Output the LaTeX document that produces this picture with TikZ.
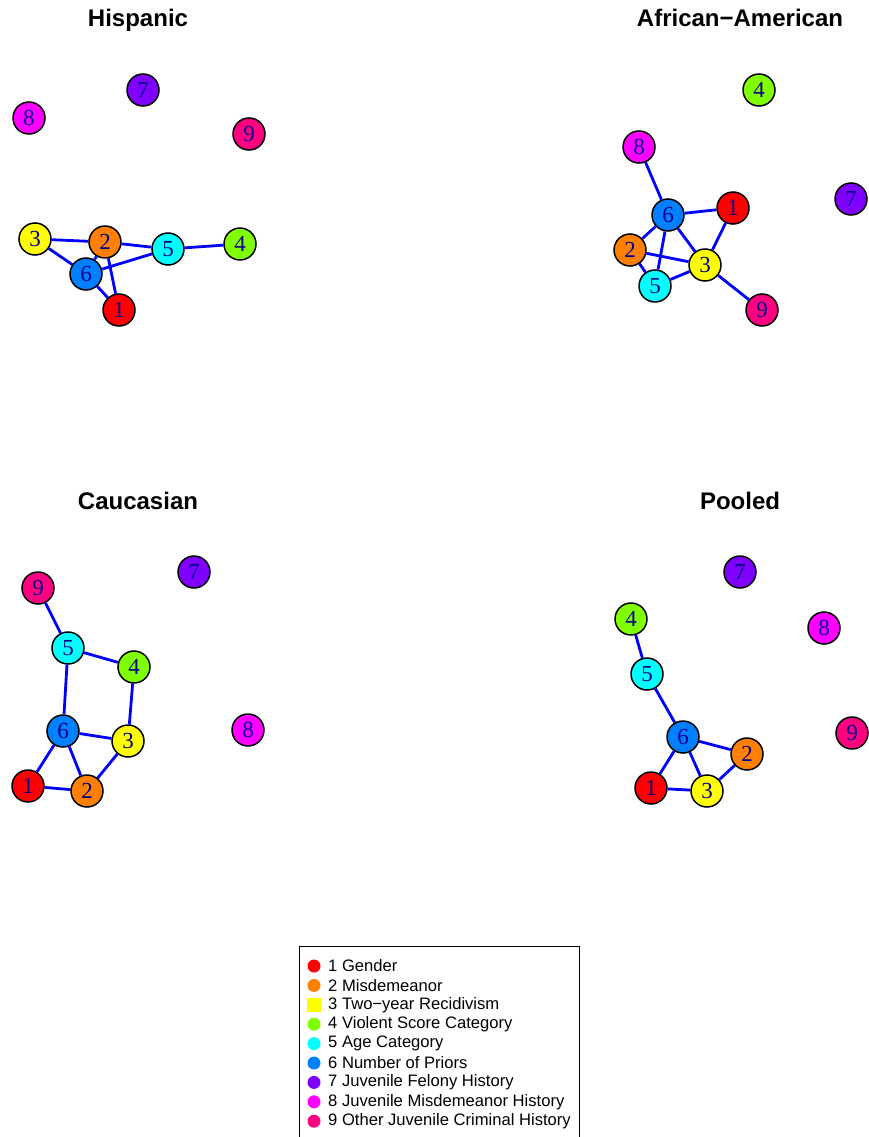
\documentclass[tikz,border=0pt]{standalone}
\usepackage{fontspec}
\setmainfont{Liberation Serif}
\setsansfont{Liberation Sans}
\definecolor{c1}{HTML}{FF0000}
\definecolor{c2}{HTML}{FF8000}
\definecolor{c3}{HTML}{FFFF00}
\definecolor{c4}{HTML}{80FF00}
\definecolor{c5}{HTML}{00FFFF}
\definecolor{c6}{HTML}{0080FF}
\definecolor{c7}{HTML}{8000FF}
\definecolor{c8}{HTML}{FF00FF}
\definecolor{c9}{HTML}{FF0080}
\definecolor{lab}{HTML}{00008B}
\definecolor{edge}{HTML}{0000FF}
\tikzset{
  vtx/.style={circle, draw=black, line width=1.5pt, minimum size=32pt, inner sep=0pt,
    text=lab, font=\fontsize{23}{23}\selectfont},
  lnk/.style={draw=edge, line width=2.8pt},
  ttl/.style={anchor=base, font=\sffamily\bfseries\fontsize{24}{28}\selectfont},
  ldot/.style={circle, minimum size=13pt, inner sep=0pt},
  lsq/.style={rectangle, minimum size=14pt, inner sep=0pt},
  ltxt/.style={anchor=west, inner sep=0pt, font=\sffamily\fontsize{16.6}{19}\selectfont}
}
\begin{document}
\begin{tikzpicture}[x=1pt,y=-1pt]
\useasboundingbox (0,0) rectangle (868,1137);
% Titles
\node[ttl] (t1) at (138,27) {Hispanic};
\node[ttl] (t2) at (740,27) {African\textminus American};
\node[ttl] (t3) at (138,509) {Caucasian};
\node[ttl] (t4) at (740,509) {Pooled};
% Hispanic
\node[vtx, fill=c8] (h8) at (29,118) {8};
\node[vtx, fill=c7] (h7) at (143,90) {7};
\node[vtx, fill=c9] (h9) at (249,134) {9};
\node[vtx, fill=c3] (h3) at (35,239) {3};
\node[vtx, fill=c2] (h2) at (105,242) {2};
\node[vtx, fill=c5] (h5) at (168,249) {5};
\node[vtx, fill=c4] (h4) at (240,244) {4};
\node[vtx, fill=c6] (h6) at (86,274) {6};
\node[vtx, fill=c1] (h1) at (119,310) {1};
\draw[lnk] (h3) -- (h2);
\draw[lnk] (h3) -- (h6);
\draw[lnk] (h2) -- (h6);
\draw[lnk] (h2) -- (h1);
\draw[lnk] (h2) -- (h5);
\draw[lnk] (h6) -- (h5);
\draw[lnk] (h6) -- (h1);
\draw[lnk] (h5) -- (h4);
% African-American
\node[vtx, fill=c4] (a4) at (759,90) {4};
\node[vtx, fill=c8] (a8) at (639,147) {8};
\node[vtx, fill=c7] (a7) at (851,199) {7};
\node[vtx, fill=c6] (a6) at (668,215) {6};
\node[vtx, fill=c1] (a1) at (733,208) {1};
\node[vtx, fill=c2] (a2) at (630,250) {2};
\node[vtx, fill=c3] (a3) at (705,265) {3};
\node[vtx, fill=c5] (a5) at (655,286) {5};
\node[vtx, fill=c9] (a9) at (762,310) {9};
\draw[lnk] (a8) -- (a6);
\draw[lnk] (a6) -- (a1);
\draw[lnk] (a6) -- (a2);
\draw[lnk] (a6) -- (a5);
\draw[lnk] (a6) -- (a3);
\draw[lnk] (a1) -- (a3);
\draw[lnk] (a2) -- (a3);
\draw[lnk] (a2) -- (a5);
\draw[lnk] (a5) -- (a3);
\draw[lnk] (a3) -- (a9);
% Caucasian
\node[vtx, fill=c9] (c9n) at (38,588) {9};
\node[vtx, fill=c7] (c7n) at (194,572) {7};
\node[vtx, fill=c5] (c5n) at (68,648) {5};
\node[vtx, fill=c4] (c4n) at (134,667) {4};
\node[vtx, fill=c6] (c6n) at (63,731) {6};
\node[vtx, fill=c3] (c3n) at (128,741) {3};
\node[vtx, fill=c8] (c8n) at (248,730) {8};
\node[vtx, fill=c1] (c1n) at (28,786) {1};
\node[vtx, fill=c2] (c2n) at (87,791) {2};
\draw[lnk] (c9n) -- (c5n);
\draw[lnk] (c5n) -- (c4n);
\draw[lnk] (c5n) -- (c6n);
\draw[lnk] (c4n) -- (c3n);
\draw[lnk] (c6n) -- (c3n);
\draw[lnk] (c6n) -- (c1n);
\draw[lnk] (c6n) -- (c2n);
\draw[lnk] (c1n) -- (c2n);
\draw[lnk] (c2n) -- (c3n);
% Pooled
\node[vtx, fill=c7] (p7) at (740,572) {7};
\node[vtx, fill=c4] (p4) at (631,619) {4};
\node[vtx, fill=c8] (p8) at (824,628) {8};
\node[vtx, fill=c5] (p5) at (647,674) {5};
\node[vtx, fill=c6] (p6) at (683,737) {6};
\node[vtx, fill=c2] (p2) at (747,754) {2};
\node[vtx, fill=c9] (p9) at (852,733) {9};
\node[vtx, fill=c1] (p1) at (651,788) {1};
\node[vtx, fill=c3] (p3) at (707,791) {3};
\draw[lnk] (p4) -- (p5);
\draw[lnk] (p5) -- (p6);
\draw[lnk] (p6) -- (p2);
\draw[lnk] (p6) -- (p1);
\draw[lnk] (p6) -- (p3);
\draw[lnk] (p1) -- (p3);
\draw[lnk] (p3) -- (p2);
% Legend
\draw[line width=1pt] (299,1137) -- (299,946) -- (579,946) -- (579,1137);
\foreach \i/\t [evaluate=\i as \yy using 966+(\i-1)*19.4] in
  {1/Gender, 2/Misdemeanor, 3/Two\textminus year Recidivism, 4/Violent Score Category,
   5/Age Category, 6/Number of Priors, 7/Juvenile Felony History,
   8/Juvenile Misdemeanor History, 9/Other Juvenile Criminal History}{
  \node[ltxt] (lt\i) at (328,\yy) {\i\ \t};
}
\node[ldot, fill=c1] (ls1) at (314,966) {};
\node[ldot, fill=c2] (ls2) at (314,985.4) {};
\node[lsq, fill=c3] (ls3) at (314,1004.8) {};
\node[ldot, fill=c4] (ls4) at (314,1024.2) {};
\node[ldot, fill=c5] (ls5) at (314,1043.6) {};
\node[ldot, fill=c6] (ls6) at (314,1063) {};
\node[ldot, fill=c7] (ls7) at (314,1082.4) {};
\node[ldot, fill=c8] (ls8) at (314,1101.8) {};
\node[ldot, fill=c9] (ls9) at (314,1121.2) {};
\end{tikzpicture}
\end{document}
